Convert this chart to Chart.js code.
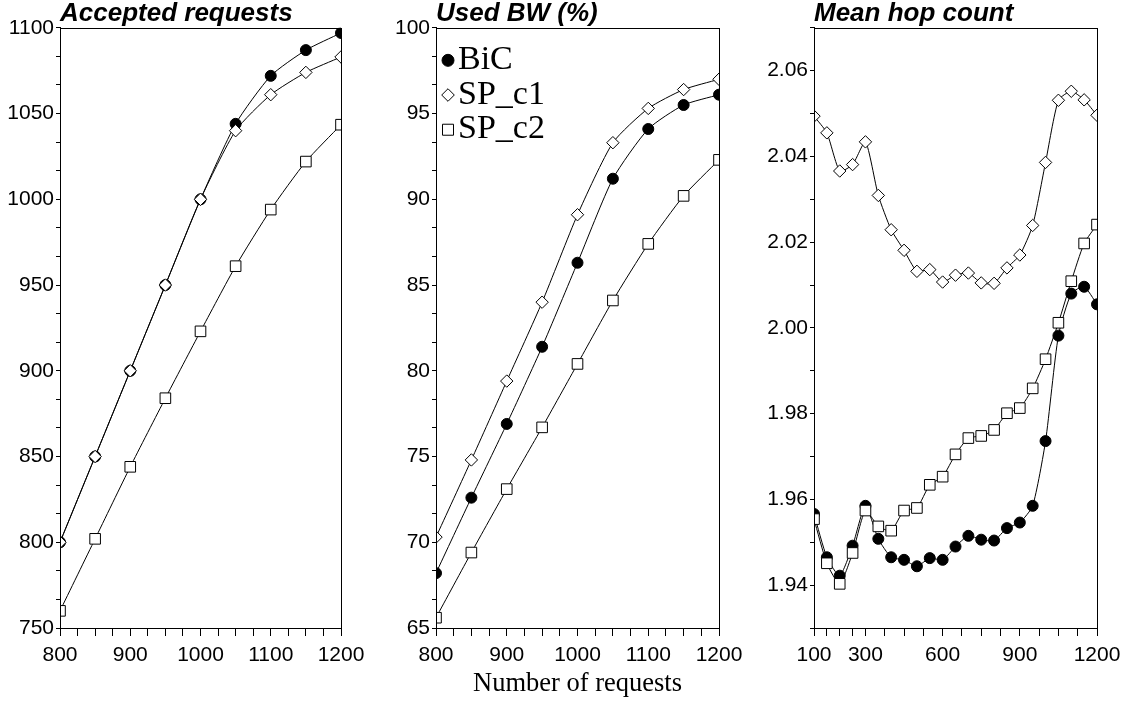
<!DOCTYPE html>
<html>
<head>
<meta charset="utf-8">
<script src="https://cdn.jsdelivr.net/npm/chart.js@4.4.1/dist/chart.umd.min.js"></script>
<style>
  body { margin: 0; background: #fff; }
  canvas.panel { position: absolute; top: 0; }
</style>
</head>
<body>
<canvas id="accepted" class="panel" width="378" height="704" style="left:0px"></canvas>
<canvas id="usedbw" class="panel" width="378" height="704" style="left:378px"></canvas>
<canvas id="hops" class="panel" width="373" height="704" style="left:756px"></canvas>
<script>
// ---- data ----
const seriesLabels = ['BiC', 'SP_c1', 'SP_c2'];

const requests = [800, 850, 900, 950, 1000, 1050, 1100, 1150, 1200];
const acceptedBiC = [800, 850, 900, 950, 1000, 1044, 1072, 1087, 1097];
const acceptedSPc1 = [800, 850, 900, 950, 1000, 1040, 1061, 1074, 1083];
const acceptedSPc2 = [760, 802, 844, 884, 923, 961, 994, 1022, 1043.5];

const usedBwBiC = [68.2, 72.6, 76.9, 81.4, 86.3, 91.2, 94.1, 95.5, 96.1];
const usedBwSPc1 = [70.3, 74.8, 79.4, 84.0, 89.1, 93.3, 95.3, 96.4, 97.0];
const usedBwSPc2 = [65.6, 69.4, 73.1, 76.7, 80.4, 84.1, 87.4, 90.2, 92.3];

const hopRequests = [100, 150, 200, 250, 300, 350, 400, 450, 500, 550, 600, 650,
  700, 750, 800, 850, 900, 950, 1000, 1050, 1100, 1150, 1200];
const hopBiC = [1.9566, 1.9465, 1.9422, 1.9492, 1.9585, 1.9508, 1.9465, 1.9459, 1.9444,
  1.9463, 1.9459, 1.9490, 1.9515, 1.9506, 1.9504, 1.9533, 1.9546, 1.9585, 1.9736,
  1.9982, 2.0080, 2.0096, 2.0055];
const hopSPc1 = [2.0494, 2.0455, 2.0366, 2.0381, 2.0434, 2.0309, 2.0229, 2.0181, 2.0132,
  2.0136, 2.0107, 2.0123, 2.0128, 2.0105, 2.0104, 2.0140, 2.0170, 2.0239, 2.0386,
  2.0531, 2.0552, 2.0532, 2.0496];
const hopSPc2 = [1.9554, 1.9451, 1.9403, 1.9475, 1.9574, 1.9537, 1.9527, 1.9574, 1.9580,
  1.9634, 1.9653, 1.9705, 1.9743, 1.9748, 1.9762, 1.9801, 1.9813, 1.9859, 1.9927,
  2.0012, 2.0109, 2.0197, 2.0241];

// tick marks (labelled ones + minor ones)
const requestTickLabels = [800, 900, 1000, 1100, 1200];
const requestTicks = [800, 825, 850, 875, 900, 925, 950, 975, 1000, 1025, 1050, 1075,
  1100, 1125, 1150, 1175, 1200];
const hopTickLabels = [100, 300, 600, 900, 1200];
const hopTicks = [100, 150, 200, 250, 300, 375, 450, 525, 600, 675, 750, 825, 900,
  975, 1050, 1125, 1200];
const acceptedTickLabels = [750, 800, 850, 900, 950, 1000, 1050, 1100];
const usedBwTickLabels = [65, 70, 75, 80, 85, 90, 95, 100];
const hopYTickLabels = [1.94, 1.96, 1.98, 2.00, 2.02, 2.04, 2.06];
const hopYTicks = [1.93, 1.94, 1.95, 1.96, 1.97, 1.98, 1.99, 2.00, 2.01, 2.02, 2.03,
  2.04, 2.05, 2.06, 2.07];

// ---- helpers ----
const sans = 'Liberation Sans, Arial, sans-serif';
const serif = 'Liberation Serif, Times New Roman, serif';

// minor ticks: two extra marks between each labelled y tick
function withThirds(labels) {
  const out = [];
  for (let i = 0; i < labels.length - 1; i++) {
    const step = (labels[i + 1] - labels[i]) / 3;
    out.push(labels[i], labels[i] + step, labels[i] + 2 * step);
  }
  out.push(labels[labels.length - 1]);
  return out;
}

function isLabel(list, v) {
  return list.some(l => Math.abs(l - v) < 1e-6);
}

const markerStyles = [
  { pointStyle: 'circle', pointRadius: 5.5, pointBackgroundColor: '#000', order: 3 },
  { pointStyle: 'rectRot', pointRadius: 6.2, pointBackgroundColor: '#fff', order: 2 },
  { pointStyle: 'rect', pointRadius: 7.5, pointBackgroundColor: '#fff', order: 1 },
];

function makeDatasets(xs, series) {
  return series.map((ys, i) => ({
    label: seriesLabels[i],
    data: xs.map((x, j) => ({ x: x, y: ys[j] })),
    borderColor: '#000',
    borderWidth: 1,
    pointBorderColor: '#000',
    pointBorderWidth: 1,
    tension: 0.2,
    ...markerStyles[i],
  }));
}

// draws top and right edges of the plot frame
const framePlugin = {
  id: 'frame',
  afterDraw(chart) {
    const { ctx, chartArea } = chart;
    ctx.save();
    ctx.strokeStyle = '#000';
    ctx.lineWidth = 1;
    ctx.strokeRect(Math.round(chartArea.left) + 0.5, Math.round(chartArea.top) + 0.5,
      Math.round(chartArea.right - chartArea.left), Math.round(chartArea.bottom - chartArea.top));
    ctx.restore();
  }
};

// legend inside the plot, like the original figure
const innerLegend = {
  id: 'innerLegend',
  afterDatasetsDraw(chart, args, opts) {
    if (!opts.show) return;
    const { ctx, chartArea } = chart;
    ctx.save();
    ctx.font = '34px ' + serif;
    ctx.fillStyle = '#000';
    ctx.textBaseline = 'alphabetic';
    chart.data.datasets.forEach((ds, i) => {
      const cx = chartArea.left + 12;
      const cy = chartArea.top + 32.5 + i * 34.7;
      ctx.beginPath();
      if (ds.pointStyle === 'circle') {
        ctx.arc(cx, cy, 6, 0, Math.PI * 2);
      } else if (ds.pointStyle === 'rectRot') {
        ctx.moveTo(cx - 6.3, cy); ctx.lineTo(cx, cy - 6.3);
        ctx.lineTo(cx + 6.3, cy); ctx.lineTo(cx, cy + 6.3);
        ctx.closePath();
      } else {
        ctx.rect(cx - 5.5, cy - 5.5, 11, 11);
      }
      ctx.fillStyle = ds.pointBackgroundColor;
      ctx.fill();
      ctx.strokeStyle = '#000';
      ctx.lineWidth = 1;
      ctx.stroke();
      ctx.fillStyle = '#000';
      ctx.fillText(ds.label, chartArea.left + 22, cy + 8.5);
    });
    ctx.restore();
  }
};

function makePanel(id, cfg) {
  const ctx = document.getElementById(id).getContext('2d');
  return new Chart(ctx, {
    type: 'line',
    data: { datasets: makeDatasets(cfg.xs, cfg.series) },
    plugins: [framePlugin, innerLegend],
    options: {
      responsive: false,
      animation: false,
      devicePixelRatio: 1,
      layout: { padding: { left: 0, right: cfg.padRight, top: 0, bottom: 0 } },
      plugins: {
        legend: { display: false },
        tooltip: { enabled: false },
        innerLegend: { show: !!cfg.legend },
        title: {
          display: true,
          text: cfg.title,
          align: 'start',
          fullSize: false,
          color: '#000',
          font: { family: sans, size: 26, weight: 'bold', style: 'italic', lineHeight: 1.07 },
          padding: { top: 0, bottom: 0 },
        },
      },
      scales: {
        x: {
          type: 'linear',
          min: cfg.xs[0],
          max: cfg.xs[cfg.xs.length - 1],
          afterBuildTicks: s => { s.ticks = cfg.xTicks.map(v => ({ value: v })); },
          afterFit: s => { s.height = 76; },
          ticks: {
            autoSkip: false,
            maxRotation: 0,
            minRotation: 0,
            padding: 7,
            color: '#000',
            font: { family: sans, size: 21 },
            callback: v => isLabel(cfg.xLabels, v) ? String(v) : '',
          },
          grid: { drawOnChartArea: false, color: '#000', tickLength: 8 },
          border: { color: '#000', width: 1 },
          title: {
            display: !!cfg.xTitle,
            text: cfg.xTitle || '',
            color: '#000',
            font: { family: serif, size: 26.5 },
            padding: { top: 0, bottom: 4 },
          },
        },
        y: {
          type: 'linear',
          min: cfg.yTicks[0],
          max: cfg.yTicks[cfg.yTicks.length - 1],
          afterBuildTicks: s => { s.ticks = cfg.yTicks.map(v => ({ value: v })); },
          afterFit: s => { s.width = cfg.yWidth; },
          ticks: {
            autoSkip: false,
            padding: 2,
            color: '#000',
            font: { family: sans, size: 21 },
            callback: v => isLabel(cfg.yLabels, v) ? cfg.yFormat(v) : '',
          },
          grid: { drawOnChartArea: false, color: '#000', tickLength: 4 },
          border: { color: '#000', width: 1 },
        },
      },
    },
  });
}

makePanel('accepted', {
  title: 'Accepted requests',
  xs: requests,
  series: [acceptedBiC, acceptedSPc1, acceptedSPc2],
  xTicks: requestTicks,
  xLabels: requestTickLabels,
  yTicks: withThirds(acceptedTickLabels),
  yLabels: acceptedTickLabels,
  yFormat: v => String(Math.round(v)),
  yWidth: 60,
  padRight: 37,
});

makePanel('usedbw', {
  title: 'Used BW (%)',
  xs: requests,
  series: [usedBwBiC, usedBwSPc1, usedBwSPc2],
  xTicks: requestTicks,
  xLabels: requestTickLabels,
  xTitle: 'Number of requests',
  yTicks: withThirds(usedBwTickLabels),
  yLabels: usedBwTickLabels,
  yFormat: v => String(Math.round(v)),
  yWidth: 58,
  padRight: 37,
  legend: true,
});

makePanel('hops', {
  title: 'Mean hop count',
  xs: hopRequests,
  series: [hopBiC, hopSPc1, hopSPc2],
  xTicks: hopTicks,
  xLabels: hopTickLabels,
  yTicks: hopYTicks,
  yLabels: hopYTickLabels,
  yFormat: v => v.toFixed(2),
  yWidth: 58,
  padRight: 32,
});
</script>
</body>
</html>
